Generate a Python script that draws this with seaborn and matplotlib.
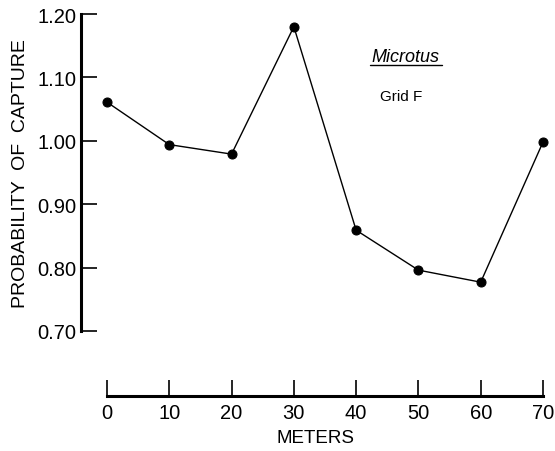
import matplotlib
matplotlib.use('Agg')
import matplotlib.pyplot as plt
import pandas as pd
import seaborn as sns

# values
meters = [0, 10, 20, 30, 40, 50, 60, 70]
prob_capture = [1.061, 0.994, 0.979, 1.180, 0.859, 0.796, 0.777, 0.998]
y_ticks = [0.70, 0.80, 0.90, 1.00, 1.10, 1.20]
y_tick_labels = ['0.70', '0.80', '0.90', '1.00', '1.10', '1.20']

df = pd.DataFrame({'meters': meters, 'prob': prob_capture})

sns.set_style('ticks')
plt.rcParams['font.family'] = ['Liberation Sans', 'DejaVu Sans']
plt.rcParams['text.color'] = 'black'
plt.rcParams['axes.labelcolor'] = 'black'

fig = plt.figure(figsize=(5.55, 4.52), dpi=100)
ax = fig.add_axes([0.1456, 0.2655, 0.844, 0.7013])

sns.lineplot(data=df, x='meters', y='prob', ax=ax, color='black', linewidth=1.0,
             marker='o', markersize=6.5, markeredgecolor='black', markerfacecolor='black')

# spines first - set_position resets the tick settings
ax.spines['top'].set_visible(False)
ax.spines['right'].set_visible(False)
ax.spines['left'].set_linewidth(2.2)
ax.spines['bottom'].set_linewidth(2.2)
ax.spines['left'].set_color('black')
ax.spines['bottom'].set_color('black')
ax.spines['bottom'].set_position(('outward', 47))
ax.spines['bottom'].set_bounds(0, 70)

ax.set_xlim(-4.2, 71)
ax.set_ylim(0.70, 1.20)
ax.set_xticks(meters)
ax.set_xticklabels([str(m) for m in meters])
ax.set_yticks(y_ticks)
ax.set_yticklabels(y_tick_labels)
ax.tick_params(axis='both', direction='in', length=11.5, width=1.2, color='black',
               labelsize=14.5, labelcolor='black')
ax.tick_params(axis='y', pad=3)
ax.tick_params(axis='x', pad=5)

ax.set_xlabel('METERS', fontsize=13.5, labelpad=5)
ax.set_ylabel('PROBABILITY  OF  CAPTURE', fontsize=14, labelpad=6)

ax.text(0.692, 0.852, 'Microtus', transform=ax.transAxes, fontsize=13,
        style='italic', ha='center', va='baseline')
ax.plot([0.618, 0.772], [0.838, 0.838], transform=ax.transAxes, color='black',
        linewidth=1.0, clip_on=False)
ax.text(0.683, 0.741, 'Grid F', transform=ax.transAxes, fontsize=11,
        ha='center', va='center')

fig.savefig('out.png', dpi=100)
